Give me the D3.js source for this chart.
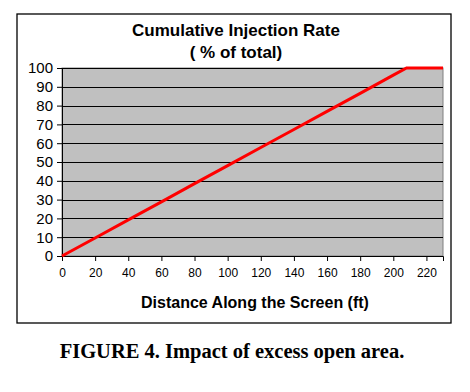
<!DOCTYPE html>
<html><head><meta charset="utf-8">
<script src="https://cdn.jsdelivr.net/npm/d3@7/dist/d3.min.js"></script>
<style>body{margin:0;background:#fff}svg{display:block}</style>
</head><body>
<svg id="c" width="470" height="392"></svg>
<script>
const title1 = "Cumulative Injection Rate";
const title2 = "( % of total)";
const xLabel = "Distance Along the Screen (ft)";
const caption = "FIGURE 4. Impact of excess open area.";
const xTicks = [0,20,40,60,80,100,120,140,160,180,200,220];
const yTicks = [0,10,20,30,40,50,60,70,80,90,100];
const distance = [0, 20, 40, 60, 80, 100, 120, 140, 160, 180, 200, 208, 230];
const injection = [0, 9.6, 19.2, 28.8, 38.5, 48.1, 57.7, 67.3, 76.9, 86.5, 96.2, 100, 100];

const svg = d3.select("#c");
const m = {l:62, r:443, t:68, b:256};
const x = d3.scaleLinear().domain([0,230]).range([m.l, m.r]);
const y = d3.scaleLinear().domain([0,100]).range([m.b, m.t]);

// outer frame
svg.append("rect").attr("x",17).attr("y",14).attr("width",434).attr("height",309)
  .attr("fill","#fff").attr("stroke","#000").attr("stroke-width",1.3);

// plot background
svg.append("rect").attr("x",m.l).attr("y",m.t).attr("width",m.r-m.l).attr("height",m.b-m.t)
  .attr("fill","#c0c0c0").attr("stroke","#808080").attr("stroke-width",1);

// gridlines
svg.append("g").selectAll("line").data(yTicks.filter(d=>d>0)).join("line")
  .attr("x1",m.l).attr("x2",m.r).attr("y1",d=>Math.round(y(d))+0.5).attr("y2",d=>Math.round(y(d))+0.5)
  .attr("stroke","#000").attr("stroke-width",1);

// axes
const fontSans = "Arial, 'Liberation Sans', sans-serif";
const yAxis = svg.append("g").attr("transform",`translate(${m.l},0)`)
  .call(d3.axisLeft(y).tickValues(yTicks).tickSize(5).tickPadding(4).tickFormat(d3.format("d")));
yAxis.select(".domain").attr("stroke","#000");
yAxis.selectAll(".tick line").attr("stroke","#000");
yAxis.selectAll("text").attr("font-family",fontSans).attr("font-size",15).attr("fill","#000");

const xAxis = svg.append("g").attr("transform",`translate(0,${m.b})`)
  .call(d3.axisBottom(x).tickValues(xTicks).tickSize(5).tickPadding(7).tickFormat(d3.format("d")));
xAxis.select(".domain").attr("stroke","#000");
xAxis.selectAll(".tick line").attr("stroke","#000");
xAxis.selectAll("text").attr("font-family",fontSans).attr("font-size",12).attr("fill","#000");

// line
svg.append("path").datum(distance.map((d,i)=>[d,injection[i]]))
  .attr("d", d3.line().x(d=>x(d[0])).y(d=>y(d[1])))
  .attr("fill","none").attr("stroke","#ff0000").attr("stroke-width",3);

// titles
svg.append("text").attr("x",236).attr("y",35.5).attr("text-anchor","middle")
  .attr("font-family",fontSans).attr("font-weight","bold").attr("font-size",17).text(title1);
svg.append("text").attr("x",236).attr("y",58).attr("text-anchor","middle")
  .attr("font-family",fontSans).attr("font-weight","bold").attr("font-size",17).text(title2);
svg.append("text").attr("x",255).attr("y",308).attr("text-anchor","middle")
  .attr("font-family",fontSans).attr("font-weight","bold").attr("font-size",16).text(xLabel);
svg.append("text").attr("x",232).attr("y",358).attr("text-anchor","middle")
  .attr("font-family","'Times New Roman', 'Liberation Serif', serif").attr("font-weight","bold").attr("font-size",20.5).text(caption);
</script>
</body></html>
